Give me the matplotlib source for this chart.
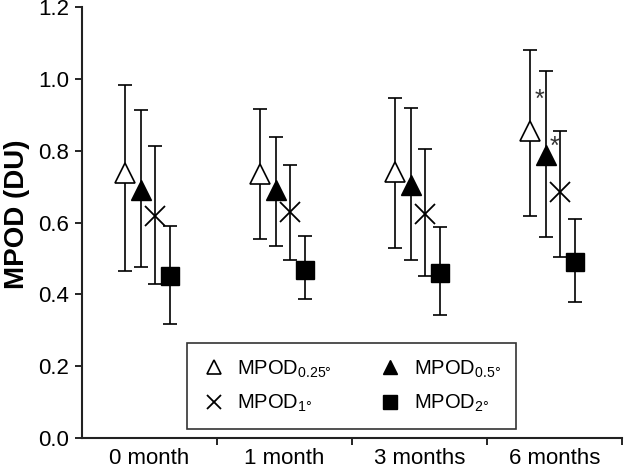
import matplotlib
matplotlib.use("Agg")
import matplotlib.pyplot as plt
import numpy as np

plt.rcParams['font.family'] = ['Liberation Sans', 'DejaVu Sans']
plt.rcParams['mathtext.fontset'] = 'custom'
plt.rcParams['mathtext.rm'] = 'Liberation Sans'
plt.rcParams['mathtext.it'] = 'Liberation Sans'

categories = ["0 month", "1 month", "3 months", "6 months"]

mpod025 = [0.738, 0.735, 0.741, 0.855]
mpod025_lo = [0.465, 0.554, 0.529, 0.618]
mpod025_hi = [0.983, 0.916, 0.947, 1.080]

mpod05 = [0.690, 0.690, 0.705, 0.788]
mpod05_lo = [0.476, 0.535, 0.496, 0.560]
mpod05_hi = [0.913, 0.838, 0.918, 1.022]

mpod1 = [0.618, 0.630, 0.624, 0.685]
mpod1_lo = [0.429, 0.496, 0.451, 0.504]
mpod1_hi = [0.813, 0.760, 0.805, 0.855]

mpod2 = [0.451, 0.468, 0.459, 0.490]
mpod2_lo = [0.317, 0.387, 0.342, 0.379]
mpod2_hi = [0.590, 0.563, 0.587, 0.610]

labels = [r'MPOD$_{0.25°}$', r'MPOD$_{0.5°}$', r'MPOD$_{1°}$', r'MPOD$_{2°}$']

# significance markers (6 months): y positions
star_y = [0.963, 0.83]

fig = plt.figure(figsize=(6.24, 4.69), dpi=100)
ax = fig.add_axes([0.131, 0.066, 0.866, 0.919])

centers = np.arange(len(categories)) + 0.5
offsets = [-0.18, -0.06, 0.04, 0.15]

series = [
    (mpod025, mpod025_lo, mpod025_hi, dict(marker='^', ms=14, mfc='white', mec='black', mew=1.2)),
    (mpod05, mpod05_lo, mpod05_hi, dict(marker='^', ms=14, mfc='black', mec='black', mew=1.0)),
    (mpod1, mpod1_lo, mpod1_hi, dict(marker='x', ms=14, mfc='none', mec='black', mew=1.3)),
    (mpod2, mpod2_lo, mpod2_hi, dict(marker='s', ms=12.5, mfc='black', mec='black', mew=1.0)),
]

handles = []
for (vals, lo, hi, style), off, lab in zip(series, offsets, labels):
    vals = np.array(vals)
    yerr = np.vstack([vals - np.array(lo), np.array(hi) - vals])
    x = centers + off
    ax.errorbar(x, vals, yerr=yerr, fmt='none', ecolor='black', elinewidth=1.2,
                capsize=5, capthick=1.2, zorder=2)
    h, = ax.plot(x, vals, linestyle='none', zorder=3, label=lab, **style)
    handles.append(h)

# significance asterisks
ax.text(centers[3] - 0.115, star_y[0] - 0.04, '*', ha='center', va='baseline', fontsize=18, color='#333333')
ax.text(centers[3] - 0.004, star_y[1] - 0.04, '*', ha='center', va='baseline', fontsize=18, color='#333333')

ax.set_xlim(0, 4)
ax.set_ylim(0, 1.2)
yt = np.arange(0, 1.21, 0.2)
ax.set_yticks(yt)
ax.set_yticklabels([f"{v:.1f}" for v in yt], fontsize=16)
ax.set_xticks([1, 2, 3, 4])
ax.set_xticklabels([])
ax.set_xticks(centers, minor=True)
ax.set_xticklabels(categories, minor=True, fontsize=16)
ax.tick_params(axis='x', which='minor', length=0, pad=7)
ax.tick_params(axis='x', which='major', length=5, width=1.2, direction='out')
ax.tick_params(axis='y', length=5, width=1.2, direction='out', pad=4)
for s in ['top', 'right']:
    ax.spines[s].set_visible(False)
for s in ['left', 'bottom']:
    ax.spines[s].set_linewidth(1.5)
    ax.spines[s].set_color('#222222')

ax.set_ylabel('MPOD (DU)', fontsize=20, fontweight='bold')
ax.yaxis.set_label_coords(-0.096, 0.52)

order = [0, 2, 1, 3]
leg = ax.legend(handles=[handles[i] for i in order], labels=[labels[i] for i in order],
                ncol=2, loc='lower left', bbox_to_anchor=(0.194, 0.021, 0.609, 0.2),
                mode='expand', borderaxespad=0, frameon=True, fancybox=False, fontsize=14.5,
                handletextpad=0.55, columnspacing=1.0, handlelength=1.2,
                borderpad=0.75, labelspacing=0.65, markerscale=0.75)
leg.get_frame().set_edgecolor('black')
leg.get_frame().set_linewidth(1.2)

fig.savefig('out.png', dpi=100)
